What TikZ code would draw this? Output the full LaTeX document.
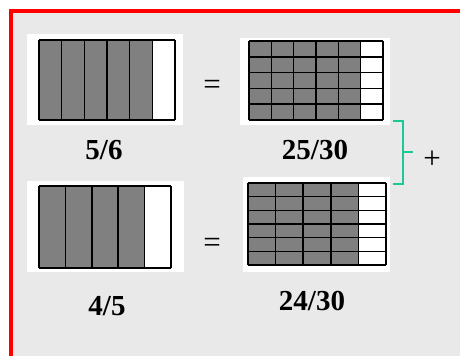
\documentclass[tikz,border=0pt]{standalone}
\usepackage{fontspec}
\setmainfont{Liberation Serif}
\usetikzlibrary{calc,positioning}
\definecolor{bgGray}{RGB}{233,233,233}
\definecolor{barGray}{RGB}{128,128,128}
\definecolor{frameRed}{RGB}{255,0,0}
\definecolor{braceTeal}{RGB}{30,200,150}
\tikzset{
  whitebox/.style={fill=white, inner sep=0pt, anchor=north west},
  gridline/.style={black, line width=1.5pt},
  fraclabel/.style={font=\fontsize{29}{31}\selectfont\bfseries},
  signlabel/.style={font=\fontsize{31}{33}\selectfont}
}

\begin{document}
\begin{tikzpicture}[x=1pt,y=-1pt]
\useasboundingbox (0,0) rectangle (460,356);
\fill[white] (0,0) rectangle (460,356);
\fill[bgGray] (11,11) rectangle (460,356);
\fill[frameRed] (9,9) rectangle (460,12.5);
\fill[frameRed] (9,9) rectangle (13,356);

% 5/6
\node[whitebox, minimum width=156pt, minimum height=91pt] (sixBox) at (27,34) {};
\fill[barGray] (39,40) rectangle (152.3,120);
\foreach \i in {0,...,6}
  \draw[gridline] ({39+\i*136/6},40) -- ({39+\i*136/6},120);
\draw[gridline] (39,40) -- (175,40);
\draw[gridline] (39,120) -- (175,120);
\node[fraclabel] (sixLabel) at (104,150) {5/6};

% 25/30
\node[whitebox, minimum width=150pt, minimum height=87pt] (thirtyBoxA) at (240,38) {};
\fill[barGray] (249,41) rectangle ({249+5*134/6},120);
\foreach \i in {0,...,6}
  \draw[gridline] ({249+\i*134/6},41) -- ({249+\i*134/6},120);
\foreach \j in {0,...,5}
  \draw[gridline] (249,{41+\j*79/5}) -- (383,{41+\j*79/5});
\node[fraclabel] (thirtyLabelA) at (315,150) {25/30};

% 4/5
\node[whitebox, minimum width=157pt, minimum height=91pt] (fiveBox) at (27,181) {};
\fill[barGray] (39,186) rectangle ({39+4*132/5},268);
\foreach \i in {0,...,5}
  \draw[gridline] ({39+\i*132/5},186) -- ({39+\i*132/5},268);
\draw[gridline] (39,186) -- (171,186);
\draw[gridline] (39,268) -- (171,268);
\node[fraclabel] (fiveLabel) at (107,306) {4/5};

% 24/30
\node[whitebox, minimum width=147pt, minimum height=95pt] (thirtyBoxB) at (243,177) {};
\fill[barGray] (248,183) rectangle ({248+4*138/5},265);
\foreach \i in {0,...,5}
  \draw[gridline] ({248+\i*138/5},183) -- ({248+\i*138/5},265);
\foreach \j in {0,...,6}
  \draw[gridline] (248,{183+\j*82/6}) -- (386,{183+\j*82/6});
\node[fraclabel] (thirtyLabelB) at (312,301) {24/30};

% equals and plus
\node[signlabel] (eqTop) at (212,87) {=};
\node[signlabel] (eqBottom) at (212,245) {=};
\coordinate (braceTop) at (393,121);
\coordinate (braceBottom) at (393,184);
\coordinate (braceTip) at (413,152);
\draw[braceTeal, line width=1.2pt] (braceTop) -- ++(10,0) |- (braceBottom);
\draw[braceTeal, line width=1.2pt] (braceTip) -- ++(-10,0);
\node[signlabel] (plusSign) at (432,160) {+};
\end{tikzpicture}
\end{document}
